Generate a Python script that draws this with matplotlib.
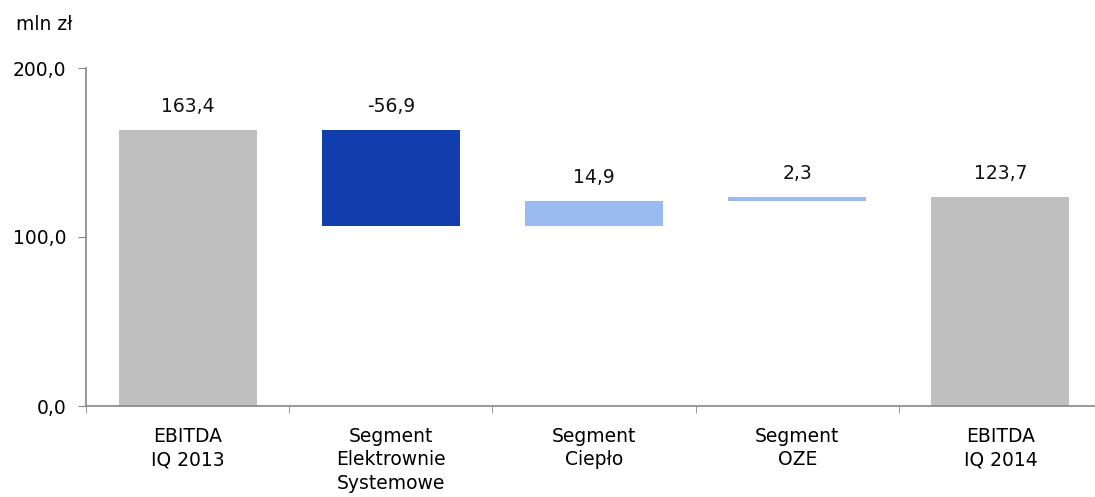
import matplotlib
matplotlib.use("Agg")
import matplotlib.pyplot as plt
import numpy as np

categories = ["EBITDA\nIQ 2013", "Segment\nElektrownie\nSystemowe", "Segment\nCiepło", "Segment\nOZE", "EBITDA\nIQ 2014"]
values = [163.4, -56.9, 14.9, 2.3, 123.7]
labels = ["163,4", "-56,9", "14,9", "2,3", "123,7"]
kinds = ["total", "delta", "delta", "delta", "total"]
y_ticks = [0, 100, 200]
y_tick_labels = ["0,0", "100,0", "200,0"]

colors = {"total": "#BFBFBF", "neg": "#103EAC", "pos": "#99BBF0"}

plt.rcParams['font.family'] = ['DejaVu Sans']
fig = plt.figure(figsize=(10.95, 4.97), dpi=100)
ax = fig.add_axes([86/1095, 91/497, 1016/1095, 338/497])

x = np.arange(len(categories))
running = 0.0
bottoms, heights, cols, tops = [], [], [], []
for v, k in zip(values, kinds):
    if k == "total":
        bottoms.append(0); heights.append(v); cols.append(colors["total"])
        running = v
        tops.append(v)
    else:
        new = running + v
        bottoms.append(min(running, new)); heights.append(abs(v))
        cols.append(colors["neg"] if v < 0 else colors["pos"])
        tops.append(max(running, new))
        running = new

ax.bar(x, heights, bottom=bottoms, width=0.68, color=cols, zorder=2)
for xi, t, lab in zip(x, tops, labels):
    ax.annotate(lab, (xi, t), xytext=(0, 13), textcoords="offset points",
                ha="center", va="baseline", fontsize=13.5, color="#111111")

ax.set_xlim(-0.5, len(categories) - 0.5)
ax.set_ylim(0, 200)
ax.set_yticks(y_ticks)
ax.set_yticklabels(y_tick_labels, fontsize=13.5)
ax.set_xticks(x)
ax.set_xticklabels(categories, fontsize=13.5, linespacing=1.29)
ax.set_xticks(np.arange(-0.5, len(categories) + 0.5, 1), minor=True)
ax.tick_params(axis="x", which="major", length=0, pad=15)
ax.tick_params(axis="x", which="minor", length=5, color="#868686", direction="out")
ax.tick_params(axis="y", length=6, color="#868686", pad=8)
for s in ["top", "right"]:
    ax.spines[s].set_visible(False)
for s in ["left", "bottom"]:
    ax.spines[s].set_color("#868686")
    ax.spines[s].set_linewidth(1.2)

fig.text(16/1095, 1 - 24/497, "mln zł", fontsize=13.5, va="center", ha="left")

fig.savefig("out.png", dpi=100)
